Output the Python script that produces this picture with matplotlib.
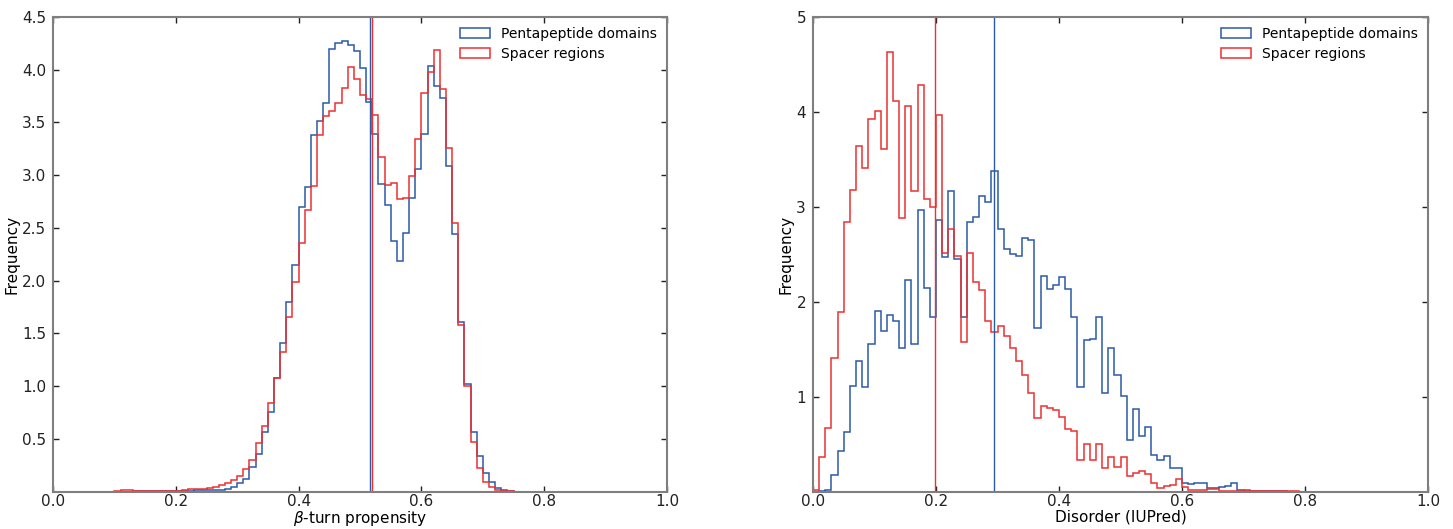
import numpy as np
import matplotlib
matplotlib.use("Agg")
import matplotlib.pyplot as plt

# ---------------- data ----------------
# Left panel: beta-turn propensity, bins of width 0.01 starting at 0.10
beta_start = 0.10
beta_penta = [0, 0, 0, 0.003, 0.005, 0.004, 0.005, 0.005, 0.006, 0.006,
              0.007, 0.008, 0.008, 0.01, 0.01, 0.012, 0.012, 0.015, 0.02, 0.047,
              0.08, 0.118, 0.235, 0.353, 0.567, 0.757, 1.08, 1.406, 1.801, 2.149,
              2.696, 2.886, 3.382, 3.512, 3.689, 4.195, 4.258, 4.277, 4.239, 4.176,
              4.018, 3.698, 3.389, 2.917, 2.72, 2.38, 2.187, 2.456, 2.785, 3.063,
              3.389, 4.034, 3.844, 3.73, 3.09, 2.443, 1.611, 1.017, 0.561, 0.337,
              0.179, 0.093, 0.03, 0.01, 0.003]
beta_spacer = [0.008, 0.017, 0.012, 0.008, 0.008, 0.006, 0.006, 0.006, 0.007, 0.007,
               0.008, 0.015, 0.02, 0.025, 0.025, 0.035, 0.041, 0.062, 0.077, 0.106,
               0.15, 0.21, 0.299, 0.463, 0.618, 0.843, 1.08, 1.32, 1.656, 1.991,
               2.361, 2.671, 2.898, 3.382, 3.56, 3.61, 3.686, 3.822, 4.03, 3.91,
               3.759, 3.724, 3.566, 3.171, 2.911, 2.924, 2.772, 2.78, 2.996, 3.341,
               3.778, 3.983, 4.183, 3.819, 3.256, 2.55, 1.58, 1.004, 0.467, 0.22,
               0.087, 0.04, 0.014, 0.005, 0.003]
beta_mean_penta = 0.517
beta_mean_spacer = 0.520

# Right panel: disorder (IUPred), bins of width 0.01 starting at 0.00
dis_start = 0.0
dis_penta = [0.0, 0.01, 0.02, 0.178, 0.427, 0.624, 1.11, 1.377, 1.102, 1.559,
             1.90, 1.696, 1.859, 1.799, 1.507, 2.231, 1.552, 2.962, 2.143, 1.834,
             2.857, 2.467, 3.166, 2.449, 1.834, 2.843, 2.892, 3.117, 3.05, 3.377,
             2.769, 2.555, 2.502, 2.477, 2.674, 2.653, 1.728, 2.266, 2.133, 2.178,
             2.256, 2.139, 1.844, 1.106, 1.598, 1.605, 1.844, 1.035, 1.517, 1.229,
             1.007, 0.543, 0.867, 0.585, 0.684, 0.385, 0.332, 0.374, 0.244, 0.244,
             0.09, 0.075, 0.085, 0.085, 0.033, 0.04, 0.045, 0.06, 0.085, 0.02,
             0.008, 0.005, 0.005, 0.004, 0.003, 0.003, 0.002]
dis_spacer = [0.02, 0.36, 0.667, 1.408, 1.893, 2.84, 3.177, 3.637, 3.409, 3.922,
              4.014, 3.605, 4.626, 4.112, 2.885, 4.059, 3.166, 4.288, 3.08, 2.998,
              3.964, 2.512, 2.765, 2.481, 1.573, 2.509, 2.206, 2.125, 1.793, 1.683,
              1.746, 1.64, 1.51, 1.37, 1.229, 1.035, 0.772, 0.902, 0.877, 0.86,
              0.789, 0.659, 0.64, 0.332, 0.5, 0.332, 0.5, 0.244, 0.36, 0.262,
              0.36, 0.165, 0.2, 0.22, 0.185, 0.094, 0.037, 0.061, 0.068, 0.128,
              0.05, 0.02, 0.02, 0.015, 0.025, 0.03, 0.01, 0.008, 0.01, 0.01,
              0.012, 0.005, 0.01, 0.005, 0.005, 0.008, 0.005, 0.003, 0.002]
dis_mean_penta = 0.294
dis_mean_spacer = 0.198

bin_width = 0.01
series_labels = ["Pentapeptide domains", "Spacer regions"]
left_yticks = [0.5, 1.0, 1.5, 2.0, 2.5, 3.0, 3.5, 4.0, 4.5]
right_yticks = [1, 2, 3, 4, 5]
xticks = [0.0, 0.2, 0.4, 0.6, 0.8, 1.0]

BLUE = "#2b5aa8"
RED = "#ee3030"
SPINE = "#7f7f7f"

plt.rcParams["font.family"] = ["DejaVu Sans"]
plt.rcParams["mathtext.fontset"] = "dejavusans"

fig = plt.figure(figsize=(14.53, 5.29), dpi=100)
W, H = 1453, 529
ax1 = fig.add_axes([53 / W, (H - 491.5) / H, 614 / W, 474.5 / H])
ax2 = fig.add_axes([813 / W, (H - 491.5) / H, 615 / W, 474.5 / H])


def draw(ax, start, penta, spacer, mpen, mspa, ylim, yticks, xlabel, yfmt):
    for vals, col, lab in ((penta, BLUE, series_labels[0]), (spacer, RED, series_labels[1])):
        vals = np.asarray(vals, dtype=float)
        edges = start + bin_width * np.arange(len(vals) + 1)
        centers = edges[:-1] + bin_width / 2
        ax.hist(centers, bins=edges, weights=vals, histtype="step",
                color=col, lw=1.1, label=lab)
    ax.axvline(mpen, color=BLUE, lw=1.0)
    ax.axvline(mspa, color=RED, lw=1.0)
    ax.set_xlim(0, 1)
    ax.set_ylim(*ylim)
    ax.set_xticks(xticks)
    ax.set_xticklabels(["%.1f" % t for t in xticks])
    ax.set_yticks(yticks)
    ax.set_yticklabels([yfmt % t for t in yticks])
    ax.tick_params(direction="in", top=True, right=True, length=4, width=1,
                   labelsize=11, colors="#222222")
    ax.tick_params(axis="x", pad=2)
    ax.tick_params(axis="y", pad=5)
    for s in ax.spines.values():
        s.set_color(SPINE)
        s.set_linewidth(1.5)
    ax.set_xlabel(xlabel, fontsize=11, labelpad=0)
    ax.set_ylabel("Frequency", fontsize=11, labelpad=2)
    ax.legend(loc="upper right", frameon=False, fontsize=10,
              handlelength=2.2, handletextpad=0.8, labelspacing=0.45,
              borderaxespad=0.3)


draw(ax1, beta_start, beta_penta, beta_spacer, beta_mean_penta, beta_mean_spacer,
     (0, 4.5), left_yticks, r"$\beta$-turn propensity", "%.1f")
draw(ax2, dis_start, dis_penta, dis_spacer, dis_mean_penta, dis_mean_spacer,
     (0, 5), right_yticks, "Disorder (IUPred)", "%d")

fig.savefig("out.png", dpi=100)
